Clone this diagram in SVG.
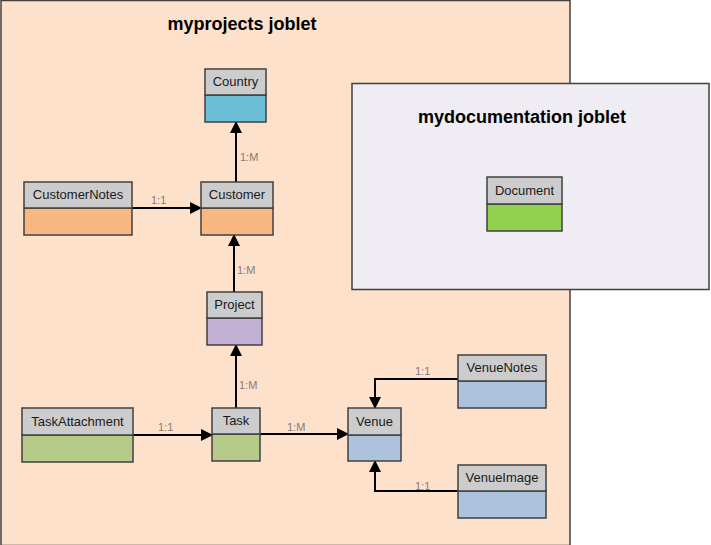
<svg xmlns="http://www.w3.org/2000/svg" width="711" height="545" viewBox="0 0 711 545">
<style>
.hd{fill:#cccccc;stroke:#404040;stroke-width:1.5}
.bd{stroke:#404040;stroke-width:1.5}
.nt{font-family:"Liberation Sans",Arial,sans-serif;font-size:13px;fill:#1a1a1a;text-anchor:middle}
.lb{font-family:"Liberation Sans",Arial,sans-serif;font-size:11px;fill:#8a7a70}
.tt{font-family:"Liberation Sans",Arial,sans-serif;font-size:18px;font-weight:bold;fill:#000;text-anchor:middle}
.cn{fill:none;stroke:#000;stroke-width:2;marker-end:url(#ah)}
</style>
<defs>
<marker id="ah" markerWidth="12" markerHeight="12" refX="11" refY="6" orient="auto" markerUnits="userSpaceOnUse">
<path d="M0,0 L12,6 L0,12 Z" fill="#000"/>
</marker>
</defs>
<rect width="711" height="545" fill="#ffffff"/>
<g id="myprojects">
<rect x="1" y="0.5" width="569" height="545" fill="#fde1cb" stroke="#404040" stroke-width="1.5"/>
<text class="tt" x="242" y="30">myprojects joblet</text>
</g>
<g id="mydocumentation">
<rect x="352" y="83.5" width="357" height="206" fill="#efedf3" stroke="#404040" stroke-width="1.5"/>
<text class="tt" x="522" y="123">mydocumentation joblet</text>
</g>
<g id="connectors">
<path class="cn" d="M236,182 V122"/>
<text class="lb" x="240" y="161">1:M</text>
<path class="cn" d="M132,208 H201"/>
<text class="lb" x="151" y="204">1:1</text>
<path class="cn" d="M234,292 V235"/>
<text class="lb" x="237" y="274">1:M</text>
<path class="cn" d="M236,408 V345"/>
<text class="lb" x="239" y="389">1:M</text>
<path class="cn" d="M133,435 H212"/>
<text class="lb" x="158" y="431">1:1</text>
<path class="cn" d="M260,434 H348"/>
<text class="lb" x="287" y="431">1:M</text>
<path class="cn" d="M458,379 H375 V408"/>
<text class="lb" x="415" y="375">1:1</text>
<path class="cn" d="M458,491 H375 V461"/>
<text class="lb" x="415" y="490">1:1</text>
</g>
<g id="Country">
<rect class="bd" x="205" y="95" width="61" height="27" fill="#6cbfd6"/>
<rect class="hd" x="205" y="69" width="61" height="26"/>
<text class="nt" x="235.5" y="86">Country</text>
</g>
<g id="Customer">
<rect class="bd" x="201" y="208" width="72" height="27" fill="#f9b882"/>
<rect class="hd" x="201" y="182" width="72" height="26"/>
<text class="nt" x="237" y="199">Customer</text>
</g>
<g id="CustomerNotes">
<rect class="bd" x="24" y="208" width="108" height="27" fill="#f9b882"/>
<rect class="hd" x="24" y="182" width="108" height="26"/>
<text class="nt" x="78" y="199">CustomerNotes</text>
</g>
<g id="Project">
<rect class="bd" x="207" y="318" width="55" height="27" fill="#c0b1d4"/>
<rect class="hd" x="207" y="292" width="55" height="26"/>
<text class="nt" x="234.5" y="309">Project</text>
</g>
<g id="Task">
<rect class="bd" x="212" y="434" width="48" height="27" fill="#b6cb89"/>
<rect class="hd" x="212" y="408" width="48" height="26"/>
<text class="nt" x="236" y="425">Task</text>
</g>
<g id="TaskAttachment">
<rect class="bd" x="22" y="435" width="111" height="27" fill="#b6cb89"/>
<rect class="hd" x="22" y="408" width="111" height="27"/>
<text class="nt" x="77.5" y="426">TaskAttachment</text>
</g>
<g id="Venue">
<rect class="bd" x="348" y="435" width="53" height="26" fill="#adc2dc"/>
<rect class="hd" x="348" y="408" width="53" height="27"/>
<text class="nt" x="374.5" y="426">Venue</text>
</g>
<g id="VenueNotes">
<rect class="bd" x="458" y="381" width="88" height="27" fill="#adc2dc"/>
<rect class="hd" x="458" y="355" width="88" height="26"/>
<text class="nt" x="502" y="372">VenueNotes</text>
</g>
<g id="VenueImage">
<rect class="bd" x="458" y="491" width="88" height="27" fill="#adc2dc"/>
<rect class="hd" x="458" y="465" width="88" height="26"/>
<text class="nt" x="502" y="482">VenueImage</text>
</g>
<g id="Document">
<rect class="bd" x="487" y="204" width="75" height="27" fill="#92d050"/>
<rect class="hd" x="487" y="177" width="75" height="27"/>
<text class="nt" x="524.5" y="195">Document</text>
</g>
</svg>
